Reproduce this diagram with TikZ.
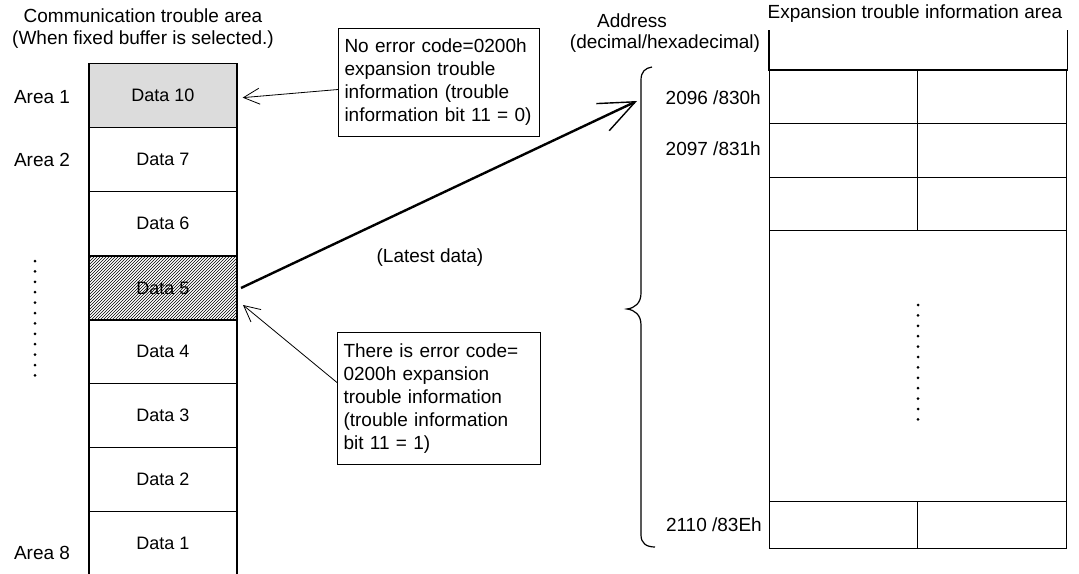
\documentclass[tikz,border=0pt]{standalone}
\usepackage{fontspec}
\setmainfont{Liberation Sans}
\usetikzlibrary{positioning,arrows.meta,patterns}
\definecolor{CellGray}{RGB}{220,220,220}
\tikzset{
  cell box/.style={
    draw=black,
    line width=1.3pt,
    minimum width=148pt,
    minimum height=64pt,
    anchor=north,
    inner sep=0pt,
    font=\fontsize{18}{22}\selectfont
  },
  cell first/.style={cell box, fill=CellGray},
  cell latest/.style={cell box, line width=2pt, pattern=north east lines},
  note box/.style={draw, line width=1pt, align=left, anchor=north west, inner xsep=6pt, font=\fontsize{19}{23}\selectfont},
  tab cell/.style={draw, line width=1.2pt, anchor=north west, inner sep=0pt},
  plain label/.style={font=\fontsize{19}{22}\selectfont, align=center, inner sep=0pt},
  note arrow/.style={-{Straight Barb[length=16pt,width=16pt]}, line width=0.8pt},
  data arrow/.style={-{Straight Barb[length=36pt,width=30pt,line width=1.4pt]}, line width=2.4pt},
  brace line/.style={line width=1.2pt},
  dot mark/.style={circle, fill, inner sep=0pt, minimum size=3pt}
}
\begin{document}
\begin{tikzpicture}[x=1pt,y=-1pt]
\useasboundingbox (0,0) rectangle (1079,573);
% left column: communication trouble area
\node[plain label] (commtitle) at (143,29) {Communication trouble area\\(When fixed buffer is selected.)};
\foreach \num/\k/\sty in {10/0/cell first,7/1/cell box,6/2/cell box,5/3/cell latest,4/4/cell box,3/5/cell box,2/6/cell box,1/7/cell box}
  \node[\sty] (cell\num) at (163,63+\k*64) {Data \num};
\node[plain label] (area1) at (42,97) {Area 1};
\node[plain label] (area2) at (42,160) {Area 2};
\node[plain label] (area8) at (42,553) {Area 8};
\foreach \i in {0,...,11}
  \node[dot mark] at (35,261+\i*10.4) {};
% notes
\node[note box, text width=189pt, minimum height=108pt] (nerr0) at (338,28) {No error code=0200h\\expansion trouble\\information (trouble\\information bit 11 = 0)};
\node[note box, text width=191pt, minimum height=132pt] (nerr1) at (337,332) {There is error code=\\0200h expansion\\trouble information\\(trouble information\\bit 11 = 1)};
\node[plain label] (latest) at (430,258) {(Latest data)};
% right column: expansion trouble information area
\node[plain label] (exptitle) at (915,14) {Expansion trouble information area};
\node[plain label] (addrtitle) at (632,21) {Address};
\node[plain label] (addrunit) at (665,44) {(decimal/hexadecimal)};
\node[tab cell, draw=none, minimum width=297pt, minimum height=39pt] (head) at (769,30) {};
\draw[line width=1.2pt] (head.north west) -- (head.south west) -- (head.south east) -- (head.north east);
\foreach \r/\y/\h in {1/69/54,2/123/54,3/177/53}{
  \node[tab cell, minimum width=148pt, minimum height=\h pt] (row\r a) at (769,\y) {};
  \node[tab cell, minimum width=149pt, minimum height=\h pt] (row\r b) at (917,\y) {};
}
\node[tab cell, minimum width=297pt, minimum height=271pt] (gap) at (769,230) {};
\node[tab cell, minimum width=148pt, minimum height=47pt] (rowla) at (769,501) {};
\node[tab cell, minimum width=149pt, minimum height=47pt] (rowlb) at (917,501) {};
\foreach \i in {0,...,11}
  \node[dot mark] at (918,305+\i*10.4) {};
\node[plain label, anchor=east] (addr0) at (761,98) {2096 /830h};
\node[plain label, anchor=east] (addr1) at (761,149) {2097 /831h};
\node[plain label, anchor=east] (addr14) at (762,525) {2110 /83Eh};
% brace
\draw[brace line] (652,67) .. controls (645,68) and (641,72) .. (641,80) -- (641,293)
  .. controls (641,303) and (635,308) .. (627,309)
  .. controls (635,310) and (641,315) .. (641,325) -- (641,535)
  .. controls (641,543) and (646,547) .. (655,547);
\coordinate (addrin) at (637,101);
% arrows
\draw[data arrow] ([xshift=3pt]cell5.east) -- (addrin);
\draw[note arrow] ([yshift=-7pt]nerr0.west) -- ([xshift=5pt,yshift=-2pt]cell10.east);
\draw[note arrow] ([yshift=16pt]nerr1.west) -- ([xshift=5pt,yshift=-17pt]cell5.east);
\end{tikzpicture}
\end{document}
